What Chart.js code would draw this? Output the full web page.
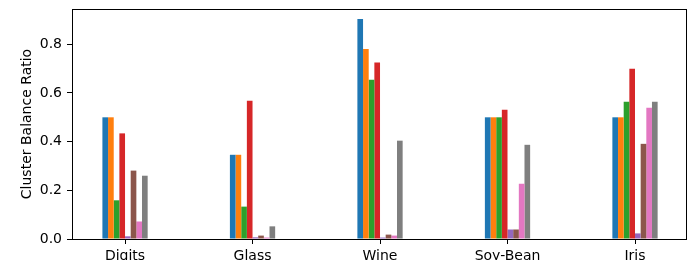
<!DOCTYPE html>
<html>
<head>
<meta charset="utf-8">
<script src="https://cdn.jsdelivr.net/npm/chart.js@4.4.1/dist/chart.umd.min.js"></script>
<style>
  body { margin: 0; background: #fff; }
  canvas { display: block; }
</style>
</head>
<body>
<canvas id="chart" width="700" height="260"></canvas>
<script>
// Datasets (x axis categories)
const categories = ["Digits", "Glass", "Wine", "Soy-Bean", "Iris"];

// One array per method, values in category order
const method1 = [0.50, 0.346, 0.904, 0.50, 0.50];
const method2 = [0.50, 0.346, 0.781, 0.50, 0.50];
const method3 = [0.159, 0.133, 0.654, 0.50, 0.564];
const method4 = [0.434, 0.568, 0.725, 0.531, 0.699];
const method5 = [0.011, 0.007, 0.006, 0.039, 0.023];
const method6 = [0.281, 0.014, 0.018, 0.039, 0.391];
const method7 = [0.072, 0.006, 0.014, 0.227, 0.539];
const method8 = [0.26, 0.052, 0.404, 0.387, 0.564];

const yTicks = [0.0, 0.2, 0.4, 0.6, 0.8];

const series = [method1, method2, method3, method4, method5, method6, method7, method8];
const colors = ["#1f77b4", "#ff7f0e", "#2ca02c", "#d62728", "#9467bd", "#8c564b", "#e377c2", "#7f7f7f"];

// Draw the full box around the plot, like matplotlib spines
const frame = {
  id: "frame",
  afterDraw(chart) {
    const { ctx, chartArea: a } = chart;
    ctx.save();
    ctx.strokeStyle = "#000";
    ctx.lineWidth = 1;
    ctx.strokeRect(Math.round(a.left) + 0.5, Math.round(a.top) + 0.5,
      Math.round(a.right - a.left), Math.round(a.bottom - a.top));
    ctx.restore();
  },
};

const font = { family: "DejaVu Sans", size: 14 };

new Chart(document.getElementById("chart"), {
  type: "bar",
  data: {
    datasets: series.map((vals, i) => ({
      data: vals.map((v, j) => ({ x: j, y: v })),
      backgroundColor: colors[i],
      borderWidth: 0,
      categoryPercentage: 0.355,
      barPercentage: 1.0,
    })),
  },
  options: {
    responsive: false,
    animation: false,
    layout: { padding: { top: 9, right: 14, left: 19, bottom: 0 } },
    plugins: { legend: { display: false }, tooltip: { enabled: false } },
    scales: {
      x: {
        type: "linear",
        min: -0.416,
        max: 4.4,
        offset: false,
        afterBuildTicks: (s) => { s.ticks = categories.map((c, i) => ({ value: i })); },
        afterFit: (s) => { s.height = 21; s.paddingLeft = 0; s.paddingRight = 0; },
        ticks: {
          color: "#000",
          font,
          padding: 4,
          maxRotation: 0,
          callback: (v) => categories[v],
        },
        grid: { offset: false, drawOnChartArea: false, drawTicks: true, tickLength: 5, color: "#000" },
        border: { color: "#000" },
      },
      y: {
        min: 0,
        max: 0.945,
        afterBuildTicks: (s) => { s.ticks = yTicks.map((v) => ({ value: v })); },
        afterFit: (s) => { s.width = 53; s.paddingTop = 0; s.paddingBottom = 0; },
        ticks: {
          color: "#000",
          font,
          padding: 5,
          callback: (v) => v.toFixed(1),
        },
        title: {
          display: true,
          text: "Cluster Balance Ratio",
          color: "#000",
          font,
          padding: { top: 0, bottom: 4 },
        },
        grid: { drawOnChartArea: false, drawTicks: true, tickLength: 5, color: "#000" },
        border: { color: "#000" },
      },
    },
  },
  plugins: [frame],
});
</script>
</body>
</html>
